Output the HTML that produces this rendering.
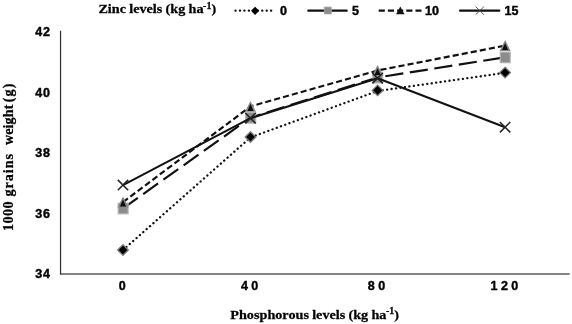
<!DOCTYPE html>
<html>
<head>
<meta charset="utf-8">
<style>
html,body{margin:0;padding:0;background:#fff;}
body{width:572px;height:324px;overflow:hidden;position:relative;}
svg{position:absolute;left:0;top:0;will-change:transform;}
.tk{font-family:"Liberation Sans",sans-serif;font-weight:bold;font-size:12.5px;fill:#000;stroke:#000;stroke-width:0.4px;}
.ax{font-family:"Liberation Serif",serif;font-weight:bold;font-size:14.1px;fill:#000;stroke:#000;stroke-width:0.25px;}
</style>
</head>
<body>
<svg width="572" height="324" viewBox="0 0 572 324">
<rect width="572" height="324" fill="#fff"/>
<!-- axes -->
<path d="M60 274 H569.7" fill="none" stroke="#5c5c5c" stroke-width="1.5"/>
<path d="M60.55 30.8 V274.6" fill="none" stroke="#333" stroke-width="1.25"/>
<!-- y ticks -->
<g class="tk" text-anchor="end" letter-spacing="0.9">
<text x="50.9" y="35.9">42</text>
<text x="50.9" y="96.5">40</text>
<text x="50.9" y="157.1">38</text>
<text x="50.9" y="217.7">36</text>
<text x="50.9" y="278.3">34</text>
</g>
<g class="tk" text-anchor="middle" letter-spacing="3.4">
<text x="123.9" y="290.2">0</text>
<text x="251.3" y="290.2">40</text>
<text x="378.2" y="290.2">80</text>
<text x="506.1" y="290.2">120</text>
</g>
<!-- axis titles -->
<text class="ax" style="font-size:13.4px" transform="translate(230.3,318.8) scale(1.06,1)" word-spacing="-0.3">Phosphorous levels (kg ha<tspan font-size="9.4" dy="-4.6" dx="-0.4">-1</tspan><tspan dy="4.6">)</tspan></text>
<g class="ax" transform="translate(12.5,230.9) rotate(-90)">
<text x="0" y="0" letter-spacing="0.4">1000</text>
<text x="34.3" y="0" letter-spacing="1.0">grains</text>
<text x="85.8" y="0" letter-spacing="0.1">weight</text>
<text x="128.6" y="0" letter-spacing="1.2">(g)</text>
</g>
<!-- legend -->
<text class="ax" style="font-size:13.4px" transform="translate(98.4,13.1) scale(1.06,1)" word-spacing="-0.3">Zinc levels (kg ha<tspan font-size="9.4" dy="-4.6" dx="-0.4">-1</tspan><tspan dy="4.6">)</tspan></text>
<g fill="none" stroke="#111" stroke-width="2.2" stroke-linecap="round">
<path d="M235.5 10.7 H272" stroke-width="2.3" stroke-dasharray="0.1 4.35"/>
<path d="M308.3 10.7 H346.7"/>
<path d="M378.7 10.7 H421.5" stroke-linecap="butt" stroke-dasharray="6.1 3.1"/>
<path d="M460.1 10.7 H499.3"/>
</g>
<path d="M255.1 6.7 L259.2 10.8 L255.1 14.9 L251 10.8Z" fill="#000"/>
<rect x="324.2" y="7" width="7.1" height="7" fill="#8c8c8c" stroke="#b0b0b0" stroke-width="0.7"/>
<path d="M400.3 6.5 L404.5 14.3 H396.1Z" fill="#111"/>
<path d="M475.7 6.7 L483.8 14.7 M483.8 6.7 L475.7 14.7" stroke="#444" stroke-width="0.9" fill="none"/>
<g class="tk">
<text x="280" y="15">0</text>
<text x="352" y="15">5</text>
<text x="425" y="15">10</text>
<text x="504.5" y="15">15</text>
</g>
<!-- series -->
<path d="M123 250 L250.5 137.4 L377.6 91 L505.1 72.8" fill="none" stroke="#111" stroke-width="2.3" stroke-linejoin="round" stroke-dasharray="0.1 4.4" stroke-linecap="round"/>
<g fill="#000" stroke="#7a7a7a" stroke-width="1.3">
<path d="M123 244.7 l5.3 5.3 l-5.3 5.3 l-5.3 -5.3Z"/>
<path d="M250.5 131.7 l5.3 5.3 l-5.3 5.3 l-5.3 -5.3Z"/>
<path d="M377.6 85.1 l5.3 5.3 l-5.3 5.3 l-5.3 -5.3Z"/>
<path d="M505.1 67.3 l5.3 5.3 l-5.3 5.3 l-5.3 -5.3Z"/>
</g>
<path d="M123 208.4 L250.5 117.7 L377.6 77.5 L505.1 57.3" fill="none" stroke="#111" stroke-width="2.2" stroke-linejoin="round" stroke-dasharray="18.2 6.6"/>
<g fill="#8c8c8c" stroke="#b4b4b4" stroke-width="1.2">
<rect x="118.2" y="203.2" width="9.9" height="10.6"/>
<rect x="245.7" y="112.5" width="9.9" height="10.6"/>
<rect x="372.8" y="72.3" width="9.9" height="10.6"/>
<rect x="500.3" y="52.1" width="9.9" height="10.6"/>
</g>
<path d="M123 202.1 L250.5 106.4 L377.6 70.5 L505.1 45.6" fill="none" stroke="#111" stroke-width="2.2" stroke-linejoin="round" stroke-dasharray="6.1 3.1"/>
<g fill="#858585">
<path d="M123 196.6 l5.5 10.8 h-11Z"/>
<path d="M250.5 100.9 l5.5 10.8 h-11Z"/>
<path d="M377.6 65.0 l5.5 10.8 h-11Z"/>
<path d="M505.1 40.1 l5.5 10.8 h-11Z"/>
</g>
<g fill="#0c0c0c">
<path d="M123 199.5 l3 7.1 h-6Z"/>
<path d="M250.5 103.8 l3 7.1 h-6Z"/>
<path d="M377.6 67.9 l3 7.1 h-6Z"/>
<path d="M505.1 43.0 l3 7.1 h-6Z"/>
</g>
<path d="M123 185.1 L250.5 118.2 L377.6 78.2 L505.1 127.2" fill="none" stroke="#111" stroke-width="2" stroke-linejoin="round"/>
<g fill="none" stroke="#222" stroke-width="1.5">
<path d="M117.8 179.9 l10.4 10.4 m0 -10.4 l-10.4 10.4"/>
<path d="M245.3 113.0 l10.4 10.4 m0 -10.4 l-10.4 10.4"/>
<path d="M372.4 73.0 l10.4 10.4 m0 -10.4 l-10.4 10.4"/>
<path d="M499.9 122.0 l10.4 10.4 m0 -10.4 l-10.4 10.4"/>
</g>
</svg>
</body>
</html>
